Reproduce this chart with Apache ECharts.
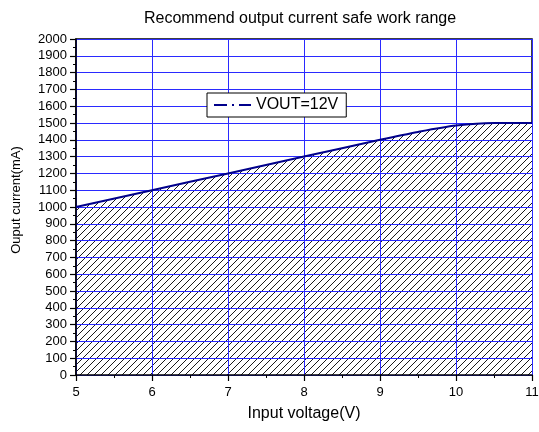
<!DOCTYPE html>
<html>
<head>
<meta charset="utf-8">
<script src="https://cdn.jsdelivr.net/npm/echarts@6/dist/echarts.min.js"></script>
<style>
  html, body { margin: 0; padding: 0; background: #fff; }
  #chart { width: 539px; height: 432px; }
</style>
</head>
<body>
<div id="chart"></div>
<script>
// data
var voltage = [5, 6, 7, 8, 9, 9.5, 10, 10.5, 11];
var current = [1000, 1100, 1200, 1300, 1400, 1447, 1485, 1500, 1500];
var seriesName = 'VOUT=12V';

var points = voltage.map(function (v, i) { return [v, current[i]]; });

// diagonal hatch pattern
function hatch() {
    var c = document.createElement('canvas');
    c.width = 7; c.height = 7;
    var ctx = c.getContext('2d');
    ctx.fillStyle = '#fff';
    ctx.fillRect(0, 0, 7, 7);
    ctx.strokeStyle = '#000';
    ctx.lineWidth = 0.9;
    ctx.beginPath();
    ctx.moveTo(-1, 8); ctx.lineTo(8, -1);
    ctx.moveTo(-1, 1); ctx.lineTo(1, -1);
    ctx.moveTo(6, 8); ctx.lineTo(8, 6);
    ctx.stroke();
    return c;
}

var font = 'Liberation Sans, Arial, sans-serif';
var blue = '#2a2aff';
var chart = echarts.init(document.getElementById('chart'));
chart.setOption({
    animation: false,
    title: {
        text: 'Recommend output current safe work range',
        left: 295, top: 6, textAlign: 'center',
        textStyle: {fontFamily: font, fontSize: 16, fontWeight: 'normal', color: '#000'}
    },
    legend: {
        left: 207, top: 93,
        backgroundColor: '#fff',
        borderColor: '#000', borderWidth: 1, borderRadius: 0,
        padding: [4, 8, 4, 6],
        itemWidth: 37, itemHeight: 10, itemGap: 5,
        textStyle: {fontFamily: font, fontSize: 16, color: '#000', padding: [0, 0, 0, 0]},
        data: [{name: seriesName,
            itemStyle: {color: 'transparent', borderColor: 'transparent', borderWidth: 0},
            lineStyle: {type: [13, 5, 2, 5], width: 2, color: '#00008B'}}]
    },
    grid: {left: 76, right: 7, top: 39, bottom: 57, outerBoundsMode: 'none',
        show: true, borderColor: '#000', borderWidth: 1.5, backgroundColor: 'transparent'},
    xAxis: {
        type: 'value', min: 5, max: 11, interval: 1,
        name: 'Input voltage(V)', nameLocation: 'middle', nameGap: 31,
        nameTextStyle: {fontFamily: font, fontSize: 16, color: '#000'},
        z: 3,
        axisLine: {show: true, onZero: false, lineStyle: {color: '#000', width: 1.5}},
        axisTick: {show: true, length: 6, lineStyle: {color: '#000', width: 1.2}},
        minorTick: {show: true, splitNumber: 2, length: 3, lineStyle: {color: '#000'}},
        axisLabel: {fontFamily: font, fontSize: 13, color: '#000', margin: 11},
        splitLine: {show: true, lineStyle: {color: blue, width: 1}}
    },
    yAxis: {
        type: 'value', min: 0, max: 2000, interval: 100,
        name: 'Ouput current(mA)', nameLocation: 'middle', nameGap: 53,
        nameTextStyle: {fontFamily: font, fontSize: 13, color: '#000', padding: [0, 0, 0, 14]},
        z: 3,
        axisLine: {show: true, onZero: false, lineStyle: {color: '#000', width: 1.5}},
        axisTick: {show: true, length: 6, lineStyle: {color: '#000', width: 1.2}},
        minorTick: {show: true, splitNumber: 2, length: 3, lineStyle: {color: '#000'}},
        axisLabel: {fontFamily: font, fontSize: 13, color: '#000', margin: 9,
            formatter: function (v) { return String(v); }},
        splitLine: {show: true, lineStyle: {color: blue, width: 1}}
    },
    series: [{
        // hatched area under the curve
        name: 'area',
        type: 'line',
        data: points,
        smooth: 0.3,
        symbol: 'none',
        z: 1,
        silent: true,
        lineStyle: {width: 0},
        areaStyle: {color: {image: hatch(), repeat: 'repeat'}, opacity: 1, origin: 'start'}
    }, {
        name: seriesName,
        type: 'line',
        data: points,
        smooth: 0.3,
        symbol: 'none',
        z: 5,
        lineStyle: {color: '#00008B', width: 2},
        itemStyle: {color: '#00008B'}
    }]
});
</script>
</body>
</html>
